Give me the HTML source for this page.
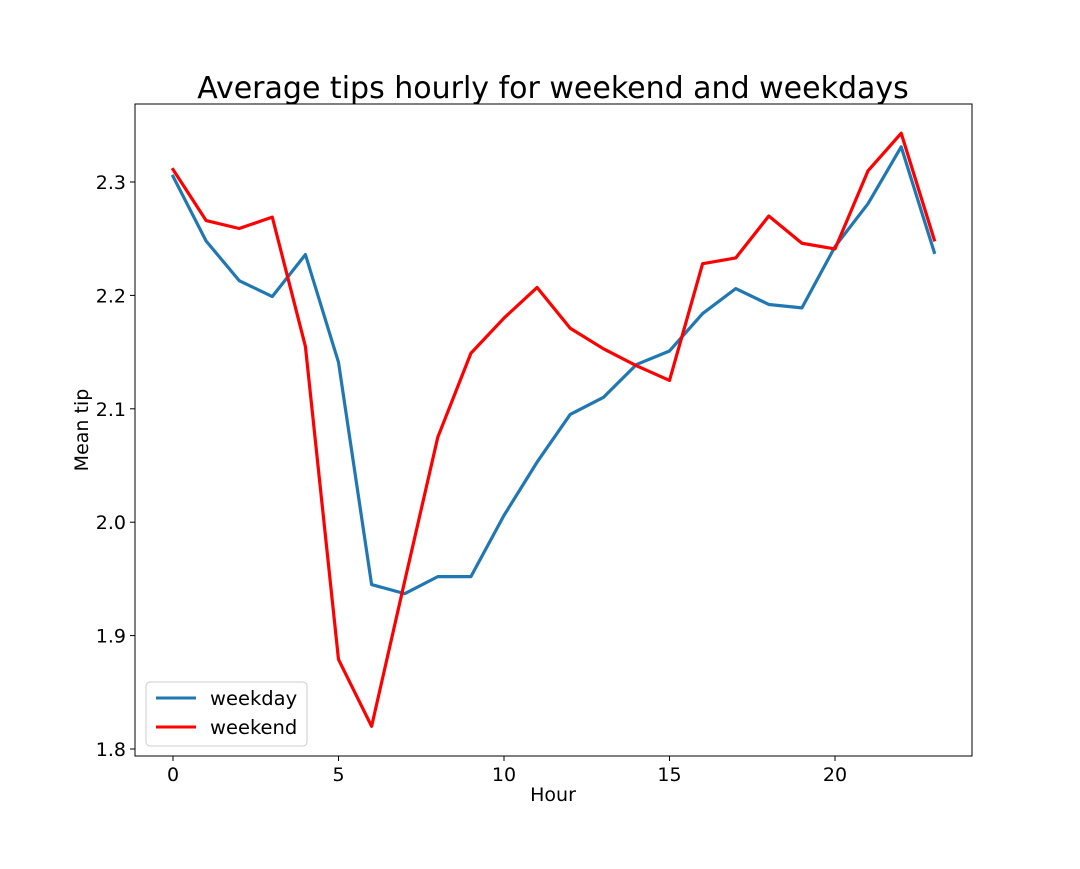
<!DOCTYPE html>
<html><head><meta charset="utf-8">
<style>
html,body{margin:0;padding:0;background:#fff;}
svg text{font-family:"DejaVu Sans","Liberation Sans",sans-serif;fill:#000;}
</style></head>
<body>
<svg id="chart" width="1080" height="864" xmlns="http://www.w3.org/2000/svg">
<rect width="1080" height="864" fill="#fff"/>
<text x="553" y="98" font-size="30" text-anchor="middle">Average tips hourly for weekend and weekdays</text>
<g id="plot"></g>
<text x="553" y="801" font-size="19" text-anchor="middle">Hour</text>
<text x="88" y="430" font-size="19" text-anchor="middle" transform="rotate(-90 88 430)">Mean tip</text>
</svg>
<script>
const hours = [0,1,2,3,4,5,6,7,8,9,10,11,12,13,14,15,16,17,18,19,20,21,22,23];
const weekday = [2.305,2.248,2.213,2.199,2.236,2.141,1.945,1.937,1.952,1.952,2.006,2.053,2.095,2.110,2.139,2.151,2.184,2.206,2.192,2.189,2.243,2.281,2.331,2.238];
const weekend = [2.311,2.266,2.259,2.269,2.155,1.879,1.820,1.948,2.075,2.149,2.180,2.207,2.171,2.153,2.138,2.125,2.228,2.233,2.270,2.246,2.241,2.310,2.343,2.249];
const xTicks = [0,5,10,15,20];
const yTicks = [1.8,1.9,2.0,2.1,2.2,2.3];
const yTickLabels = ["1.8","1.9","2.0","2.1","2.2","2.3"];

const NS = "http://www.w3.org/2000/svg";
const L=135, R=972, T=104, B=756;
function xs(h){ return 173 + (h-0)*(835-173)/20; }
function ys(v){ return 182 + (2.3-v)*(749-182)/0.5; }
const g = document.getElementById('plot');
function mk(tag, attrs){ const e=document.createElementNS(NS,tag); for(const k in attrs) e.setAttribute(k,attrs[k]); g.appendChild(e); return e; }

xTicks.forEach(t=>{
  const l = mk('line',{x1:xs(t),x2:xs(t),y1:B,y2:B+5,stroke:'#000','stroke-width':1});
  
  
  const tx = mk('text',{x:xs(t),y:B+25,'font-size':19,'text-anchor':'middle'});
  tx.textContent = String(t);
  
  
});
yTicks.forEach((t,i)=>{
  const l = mk('line',{x1:L-5,x2:L,y1:ys(t),y2:ys(t),stroke:'#000','stroke-width':1});
  
  
  const tx = mk('text',{x:L-9,y:ys(t)+7,'font-size':19,'text-anchor':'end'});
  tx.textContent = yTickLabels[i];
  
  
});
function series(vals,color,name){
  const p = mk('polyline',{points:hours.map((h,i)=>xs(h)+','+ys(vals[i])).join(' '),fill:'none',stroke:color,'stroke-width':3.2,'stroke-linejoin':'round','stroke-linecap':'square'});
  
  
}
series(weekday,'#1f77b4','weekday-line');
series(weekend,'#ff0000','weekend-line');
const frame = mk('rect',{x:L,y:T,width:R-L,height:B-T,fill:'none',stroke:'#000','stroke-width':1});



const leg = mk('rect',{x:146,y:682,width:161,height:64,rx:4,fill:'#fff','fill-opacity':0.8,stroke:'#ccc','stroke-width':1});


[['weekday','#1f77b4',698],['weekend','#ff0000',727]].forEach(([n,c,y])=>{
  const l = mk('line',{x1:156,x2:196,y1:y,y2:y,stroke:c,'stroke-width':3});
  
  
  const t = mk('text',{x:210,y:y+7,'font-size':19.5});
  t.textContent = n;
  
  
});
</script>
</body></html>
